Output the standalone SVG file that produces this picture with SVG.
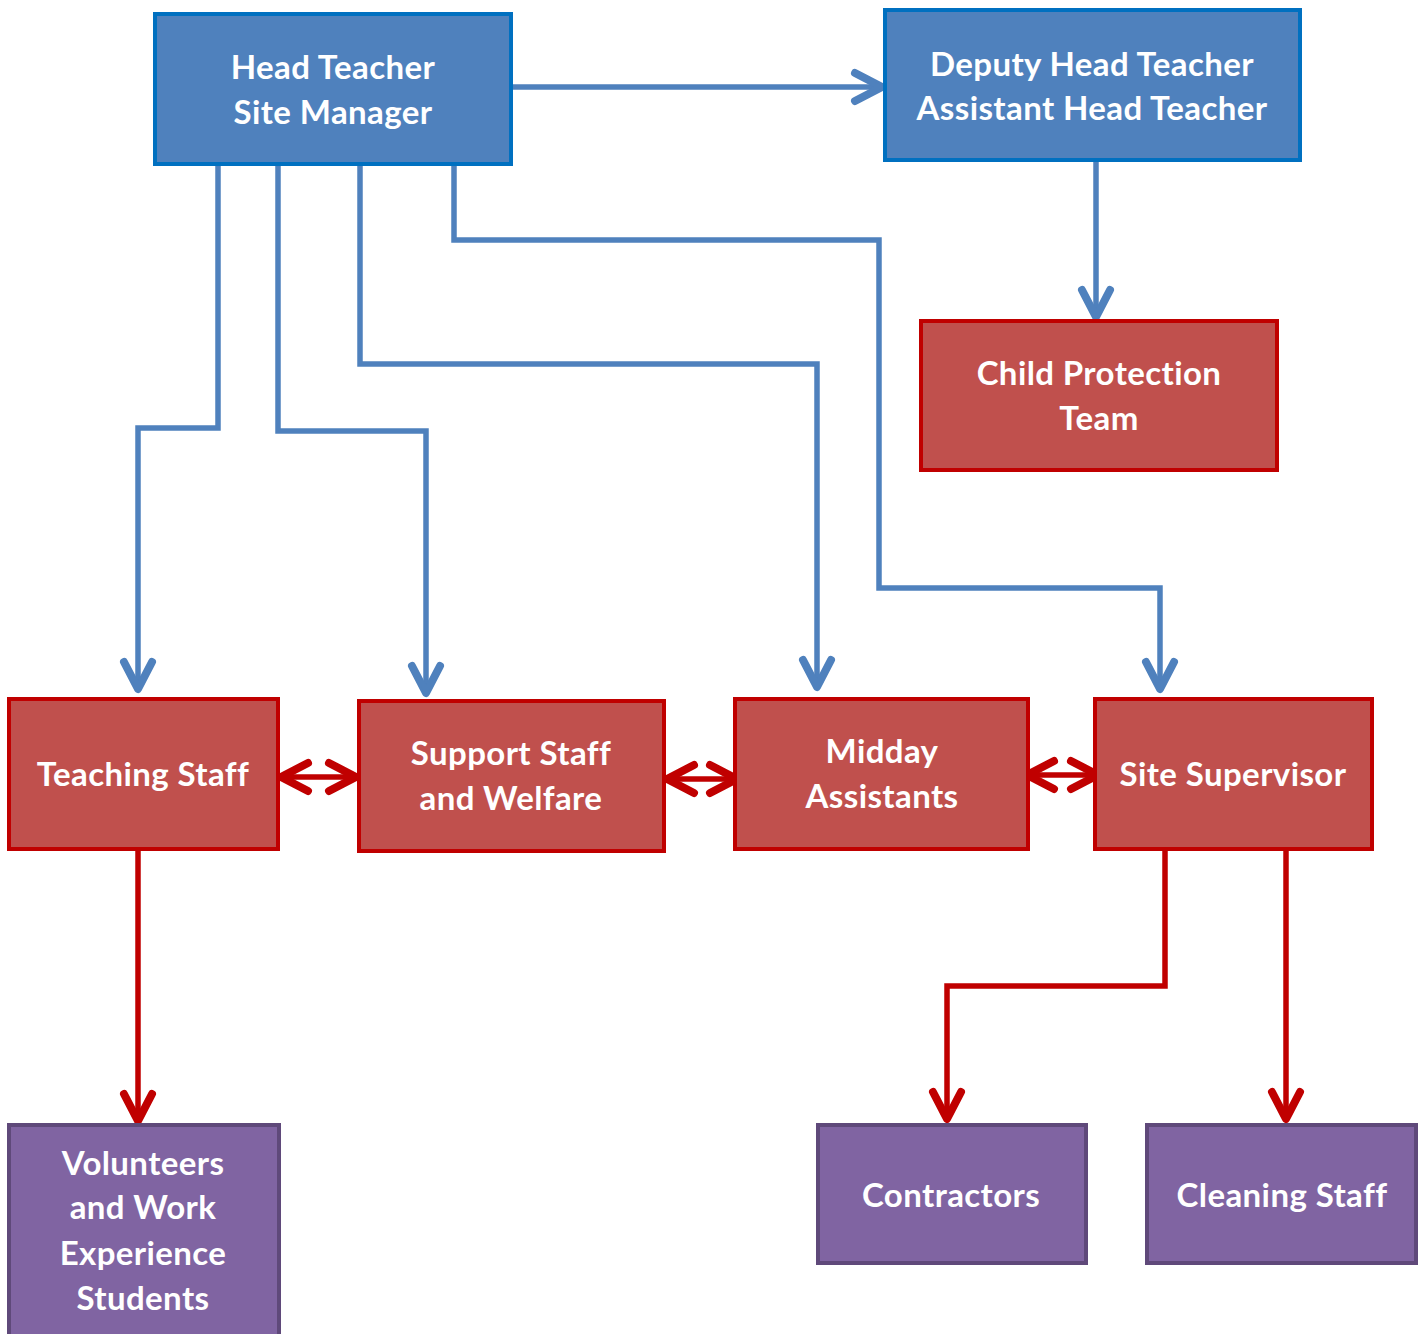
<svg xmlns="http://www.w3.org/2000/svg" width="1426" height="1334" viewBox="0 0 1426 1334">
<style>
.blue rect{fill:#4F81BD;stroke:#0070C0;stroke-width:4}
.red rect{fill:#C0504D;stroke:#C00000;stroke-width:4}
.purple rect{fill:#8064A2;stroke:#5F497A;stroke-width:4}
text{font-family:Lato,"Open Sans","Liberation Sans",sans-serif;font-weight:bold;font-size:33px;letter-spacing:0.4px;fill:#fff;text-anchor:middle}
.cb path{fill:none;stroke:#4F81BD;stroke-width:5.5}
.cr path{fill:none;stroke:#C00000;stroke-width:5.5}
</style>
<defs>
<marker id="ab" markerUnits="userSpaceOnUse" viewBox="-40 -20 50 40" refX="0" refY="0" markerWidth="50" markerHeight="40" orient="auto-start-reverse">
<path d="M-28,-14 L-1,0 L-28,14" fill="none" stroke="#4F81BD" stroke-width="8" stroke-linecap="round" stroke-linejoin="round"/>
<path d="M-8,-5 L2,0 L-8,5Z" fill="#4F81BD"/>
</marker>
<marker id="ar" markerUnits="userSpaceOnUse" viewBox="-40 -20 50 40" refX="0" refY="0" markerWidth="50" markerHeight="40" orient="auto-start-reverse">
<path d="M-28,-14 L-1,0 L-28,14" fill="none" stroke="#C00000" stroke-width="8" stroke-linecap="round" stroke-linejoin="round"/>
<path d="M-8,-5 L2,0 L-8,5Z" fill="#C00000"/>
</marker>
</defs>
<g id="connectors">
<g class="cb">
<path d="M511,87 H883" marker-end="url(#ab)"/>
<path d="M218,164 V428 H138 V690" marker-end="url(#ab)"/>
<path d="M278,164 V431 H426 V694" marker-end="url(#ab)"/>
<path d="M360,164 V364 H817 V688" marker-end="url(#ab)"/>
<path d="M454,164 V240 H879 V588 H1160 V690" marker-end="url(#ab)"/>
<path d="M1096,160 V318" marker-end="url(#ab)"/>
</g>
<g class="cr">
<path d="M138,849 V1122" marker-end="url(#ar)"/>
<path d="M1165,849 V986 H947 V1120" marker-end="url(#ar)"/>
<path d="M1286,849 V1120" marker-end="url(#ar)"/>
<path d="M280,777 H357" marker-start="url(#ar)" marker-end="url(#ar)"/>
<path d="M666,779 H738" marker-start="url(#ar)" marker-end="url(#ar)"/>
<path d="M1026,775 H1099" marker-start="url(#ar)" marker-end="url(#ar)"/>
</g>
</g>
<g id="head-teacher" class="blue"><rect x="155" y="14" width="356" height="150"/><text x="333" y="79">Head Teacher</text><text x="333" y="124">Site Manager</text></g>
<g id="deputy" class="blue"><rect x="885" y="10" width="415" height="150"/><text x="1092" y="76">Deputy Head Teacher</text><text x="1092" y="120">Assistant Head Teacher</text></g>
<g id="child-protection" class="red"><rect x="921" y="321" width="356" height="149"/><text x="1099" y="385">Child Protection</text><text x="1099" y="430">Team</text></g>
<g id="teaching-staff" class="red"><rect x="9" y="699" width="269" height="150"/><text x="143" y="786">Teaching Staff</text></g>
<g id="support-staff" class="red"><rect x="359" y="701" width="305" height="150"/><text x="511" y="765">Support Staff</text><text x="511" y="810">and Welfare</text></g>
<g id="midday" class="red"><rect x="735" y="699" width="293" height="150"/><text x="882" y="763">Midday</text><text x="882" y="808">Assistants</text></g>
<g id="site-supervisor" class="red"><rect x="1095" y="699" width="277" height="150"/><text x="1233" y="786">Site Supervisor</text></g>
<g id="volunteers" class="purple"><rect x="9" y="1125" width="270" height="215"/><text x="143" y="1175">Volunteers</text><text x="143" y="1219">and Work</text><text x="143" y="1265">Experience</text><text x="143" y="1310">Students</text></g>
<g id="contractors" class="purple"><rect x="818" y="1125" width="268" height="138"/><text x="951" y="1207">Contractors</text></g>
<g id="cleaning-staff" class="purple"><rect x="1147" y="1125" width="269" height="138"/><text x="1282" y="1207">Cleaning Staff</text></g>
</svg>
